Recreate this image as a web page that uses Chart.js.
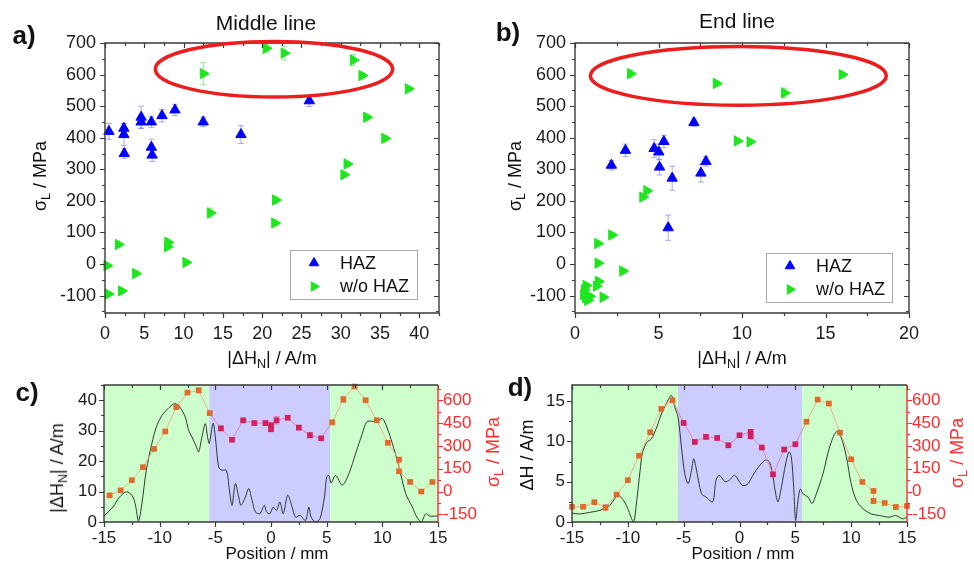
<!DOCTYPE html>
<html>
<head>
<meta charset="utf-8">
<script src="https://cdn.jsdelivr.net/npm/chart.js@4.4.1/dist/chart.umd.min.js"></script>
<style>
  body { margin: 0; background: #fff; }
  #fig { position: relative; width: 974px; height: 561px; overflow: hidden; font-family: Arial, "Liberation Sans", sans-serif; color: #111; }
  #fig canvas { position: absolute; left: 0; top: 0; }
  .t { position: absolute; white-space: nowrap; line-height: 1; transform: translate(-50%, -50%); }
  .r { transform: translate(-50%, -50%) rotate(-90deg); }
  .lab { font-weight: bold; font-size: 26px; }
  .red { color: #ff2a2a; }
  sub { font-size: 0.7em; vertical-align: -0.3em; line-height: 0; }
</style>
</head>
<body>
<div id="fig">
  <canvas id="chart-a" width="974" height="561"></canvas>
  <canvas id="chart-b" width="974" height="561"></canvas>
  <canvas id="chart-c" width="974" height="561"></canvas>
  <canvas id="chart-d" width="974" height="561"></canvas>

  <div class="t" style="left:266px;top:22px;font-size:21px;">Middle line</div>
  <div class="t" style="left:737px;top:20px;font-size:21px;">End line</div>
  <div class="t lab" style="left:24px;top:35px;">a)</div>
  <div class="t lab" style="left:508px;top:32px;">b)</div>
  <div class="t lab" style="left:27px;top:392px;">c)</div>
  <div class="t lab" style="left:520px;top:387px;">d)</div>

  <div class="t r" style="left:40px;top:176px;font-size:18px;">σ<sub>L</sub> / MPa</div>
  <div class="t" style="left:272px;top:358px;font-size:18px;">|ΔH<sub>N</sub>| / A/m</div>
  <div class="t r" style="left:515px;top:176px;font-size:18px;">σ<sub>L</sub> / MPa</div>
  <div class="t" style="left:742px;top:358px;font-size:18px;">|ΔH<sub>N</sub>| / A/m</div>

  <div class="t r" style="left:57px;top:468px;font-size:18px;">|ΔH<sub>N</sub>| / A/m</div>
  <div class="t r red" style="left:493px;top:452px;font-size:18px;">σ<sub>L</sub> / MPa</div>
  <div class="t" style="left:277px;top:553px;font-size:17px;">Position / mm</div>
  <div class="t r" style="left:527px;top:455px;font-size:18px;">ΔH / A/m</div>
  <div class="t r red" style="left:957px;top:453px;font-size:18px;">σ<sub>L</sub> / MPa</div>
  <div class="t" style="left:743px;top:553px;font-size:17px;">Position / mm</div>
</div>

<script>
// --- a) middle line: sigma_L vs |dH_N|
const hazAX = [0.5, 2.4, 2.4, 2.45, 4.6, 4.6, 5.9, 5.9, 6.0, 7.25, 8.9, 12.5, 17.3, 26.0];
const hazAY = [420, 430, 410, 350, 465, 450, 450, 370, 345, 470, 488, 450, 410, 517];
const hazAErr = [25, 15, 35, 15, 35, 20, 18, 25, 20, 20, 18, 15, 28, 18];
const woAX = [0.25, 0.4, 1.7, 2.1, 3.9, 8.0, 7.95, 10.3, 12.5, 13.4, 20.5, 21.7, 21.6, 22.8, 30.4, 30.8, 31.6, 32.7, 33.3, 35.6, 38.6];
const woAY = [-5, -95, 62, -85, -30, 69, 55, 5, 603, 162, 683, 203, 130, 668, 283, 317, 646, 597, 465, 398, 555];
const woAErr = [8, 8, 8, 8, 8, 10, 10, 8, 35, 15, 12, 10, 10, 22, 8, 8, 18, 10, 10, 8, 8];

// --- b) end line
const hazBX = [2.18, 3.02, 4.74, 5.02, 5.06, 5.32, 5.82, 5.58, 7.12, 7.54, 7.84];
const hazBY = [313, 360, 366, 355, 307, 388, 272, 115, 448, 288, 325];
const hazBErr = [15, 20, 28, 25, 25, 20, 38, 40, 12, 28, 15];
const woBX = [3.32, 8.46, 12.54, 16.0, 9.72, 10.48, 4.3, 4.06, 2.2, 1.36, 1.38, 2.86, 1.4, 1.28, 1.68, 0.66, 0.56, 0.52, 0.64, 0.88, 0.76];
const woBY = [603, 572, 542, 600, 390, 387, 232, 212, 92, 65, 3, -22, -55, -70, -105, -68, -81, -97, -107, -102, -115];
const woBErr = [12, 8, 15, 8, 8, 8, 8, 8, 8, 8, 8, 8, 8, 8, 8, 8, 8, 8, 8, 8, 8];

// --- c) middle line profile
const cPos = [-15, -14.2, -13.6, -13, -12.5, -12.2, -11.9, -11.6, -11.2, -10.7,
  -10.3, -9.8, -9.4, -8.9, -8.6, -8.2, -7.7, -7.4, -7.1, -6.7,
  -6.5, -6.2, -5.9, -5.7, -5.55, -5.2, -5.0, -4.7, -4.4, -4.0,
  -3.7, -3.5, -3.2, -2.9, -2.7, -2.3, -2.0, -1.7, -1.4, -1.0,
  -0.6, -0.4, -0.1, 0.2, 0.5, 0.8, 1.1, 1.5, 1.9, 2.2,
  2.6, 3.1, 3.4, 3.6, 4.0, 4.4, 4.8, 5.0, 5.2, 5.4, 5.8,
  6.4, 7.0, 7.6, 8.2, 8.6, 9.1, 9.5, 10.0, 10.4, 10.9,
  11.5, 12.1, 12.7, 13.1, 13.5, 13.9, 14.3, 15];
const cDH = [2.0, 4.9, 8.2, 9.9, 8.8, 6.0, 0.3, 6.0, 17, 25.8,
  31.2, 35, 36.7, 38.4, 38.9, 37.8, 34.5, 30.1, 27.9, 24.7,
  23, 28, 32.3, 28, 25.8, 32.4, 27.9, 18, 17, 17,
  9.3, 5.5, 12.6, 8.2, 5.5, 8.2, 11, 7.1, 3.3, 2.7,
  5.5, 3.3, 2.7, 4.9, 3.8, 6.6, 2.7, 8.8, 4.9, 1.6,
  2.2, 0.5, 4.9, 1.6, 0, 1.1, 8.2, 14.8, 15.3, 12.8, 15.3,
  12.1, 15.9, 22.5, 29, 32.9, 33.1, 32.9, 34, 31.2, 25.8,
  18, 9.3, 4.9, 1.6, 0, 2.7, 1.9, 2.0];
const cStressX = [-14.5, -13.5, -12.5, -11.5, -10.5, -9.5, -8.5, -7.5, -6.5, -5.5, -4.5, -3.5, -2.5, -1.5, -0.5, 0, 0, 0.5, 1.5, 2.5, 3.5, 4.5, 5.5, 6.5, 7.5, 8.5, 9.5, 10.5, 11.5, 11.5, 12.5, 13.5, 14.5];
const cStressY = [-25, 8, 75, 160, 280, 395, 555, 650, 665, 515, 415, 340, 468, 450, 450, 436, 409, 468, 485, 420, 370, 350, 455, 605, 690, 600, 468, 320, 210, 133, 63, 0, 63];
const cStressErr = [8, 8, 8, 8, 10, 10, 10, 10, 15, 10, 15, 12, 12, 10, 15, 15, 15, 25, 15, 15, 18, 10, 10, 20, 10, 10, 10, 10, 10, 10, 8, 8, 8];
const cZones = [-15, -5.55, 5.3, 15];

// --- d) end line profile
const dPos = [-15, -14.3, -13.4, -12.5, -11.6, -10.9, -10.4, -10.0, -9.5, -9.2,
  -8.9, -8.7, -8.3, -7.9, -7.4, -7.0, -6.55, -6.1, -5.8, -5.5,
  -5.2, -4.9, -4.6, -4.3, -4.1, -3.9, -3.4, -3.0, -2.4, -2.1,
  -1.8, -1.3, -0.9, -0.45, 0, 0.3, 0.76, 1.2, 1.8, 2.35,
  2.7, 3.0, 3.24, 3.45, 3.75, 4.13, 4.43, 4.64, 4.85, 5.03,
  5.24, 5.45, 5.69, 6.13, 6.5, 6.88, 7.48, 8.07, 8.67, 9.1,
  9.57, 10.0, 10.46, 11.06, 11.8, 12.55, 13.4, 14.0, 14.6, 15];
const dDH = [1.1, 1.0, 1.2, 1.45, 2.1, 3.3, 2.7, 1.65, 0, 2.7,
  6.4, 8.5, 9.9, 10.3, 11.8, 13.4, 14.7, 15.7, 14.3, 13,
  9.3, 6, 4.75, 6.4, 7.85, 6.8, 3.5, 3.1, 2.5, 5.2,
  5.8, 5.0, 5.2, 5.8, 5.0, 4.5, 4.75, 5.8, 7.0, 7.7,
  7.4, 5.6, 3.5, 2.5, 4.3, 7.2, 8.7, 8.1, 4.3, 0.2,
  2.7, 4.1, 3.5, 3.1, 2.3, 3.5, 6.0, 9.3, 11.2, 10.5,
  8.1, 4.75, 2.7, 1.65, 1.0, 0.8, 0.6, 0.8, 0.4, 0.6];
const dStressX = [-15, -14, -13, -12, -11, -10, -9, -8, -7, -6, -5, -4, -3, -2, -1, 0, 1, 1, 2, 3, 4, 5, 6, 7, 8, 9, 10, 11, 12, 12, 13, 14, 15];
const dStressY = [-100, -100, -70, -105, -20, 75, 235, 390, 543, 600, 451, 326, 359, 352, 304, 370, 392, 363, 289, 113, 276, 311, 458, 604, 578, 387, 212, 63, 4, -62, -75, -102, -95];
const dStressErr = [8, 8, 8, 20, 8, 8, 8, 8, 8, 8, 8, 12, 15, 15, 15, 10, 15, 15, 12, 8, 10, 8, 10, 8, 8, 8, 8, 8, 8, 15, 8, 15, 8];
const dZones = [-15, -5.5, 5.6, 15];

// tick labels
const sigmaTicks = [-100, 0, 100, 200, 300, 400, 500, 600, 700];
const dhTicksA = [0, 5, 10, 15, 20, 25, 30, 35, 40];
const dhTicksB = [0, 5, 10, 15, 20];
const posTicks = [-15, -10, -5, 0, 5, 10, 15];
const dhTicksC = [0, 10, 20, 30, 40];
const dhTicksD = [0, 5, 10, 15];
const stressTicks = [-150, 0, 150, 300, 450, 600];

const FONT = 'Arial, "Liberation Sans", sans-serif';
const BLUE = '#0000ff', GREEN = '#1ee61e', RED = '#ff2a2a';
const ORANGE = '#e06a2a', MAGENTA = '#d41f5f';
const ZONE_COLORS = ['#ccffcc', '#ccccff', '#ccffcc'];

Chart.defaults.font.family = FONT;
Chart.defaults.font.size = 18;
Chart.defaults.color = '#1a1a1a';

const xy = (xs, ys) => xs.map((x, i) => ({ x, y: ys[i] }));
const fixW = w => s => { s.width = w; };
const fixH = h => s => { s.height = h; };
const useTicks = list => s => { s.ticks = list.map(value => ({ value })); };
// chart area edges in page pixels -> layout padding
function areaPad(l, t, r, b, yw, xh, rw) {
  return { left: l - yw, top: t, right: 974 - r - rw, bottom: 561 - b - xh };
}
function axis(min, max, list, size, padding, extra) {
  return Object.assign({
    type: 'linear', min, max,
    grid: { display: false, drawTicks: false }, border: { display: false },
    ticks: { padding, autoSkip: false, maxRotation: 0, font: { size } },
    afterBuildTicks: useTicks(list),
  }, extra);
}

function drawTicks(ctx, s, a, edge, out) {
  const vals = s.ticks.map(t => t.value);
  const step = vals[1] - vals[0];
  const marks = vals.map(v => [v, 5]);
  for (let v = vals[0] - step / 2; v <= s.max + 1e-9; v += step) {
    if (v >= s.min - 1e-9) marks.push([v, 3]);
  }
  const d = out ? -1 : 1;
  ctx.beginPath();
  marks.forEach(([v, len]) => {
    const p = Math.round(s.getPixelForValue(v)) + 0.5;
    if (edge === 'bottom') { ctx.moveTo(p, a.bottom); ctx.lineTo(p, a.bottom - d * len); }
    if (edge === 'top') { ctx.moveTo(p, a.top); ctx.lineTo(p, a.top + d * len); }
    if (edge === 'left') { ctx.moveTo(a.left, p); ctx.lineTo(a.left + d * len, p); }
    if (edge === 'right') { ctx.moveTo(a.right, p); ctx.lineTo(a.right - d * len, p); }
  });
  ctx.stroke();
}

const framePlugin = {
  id: 'frame',
  afterDatasetsDraw(chart, args, o) {
    const { ctx, chartArea: a, scales } = chart;
    ctx.save();
    ctx.lineWidth = 1.4;
    ctx.strokeStyle = '#3a3a3a';
    ctx.beginPath();
    ctx.moveTo(a.right, a.top); ctx.lineTo(a.left, a.top);
    ctx.lineTo(a.left, a.bottom); ctx.lineTo(a.right, a.bottom);
    if (!o.right) ctx.lineTo(a.right, a.top);
    ctx.stroke();
    ctx.lineWidth = 1.2;
    drawTicks(ctx, scales.x, a, 'bottom', true);
    drawTicks(ctx, scales.x, a, 'top', false);
    drawTicks(ctx, scales.y, a, 'left', true);
    if (o.right) {
      ctx.strokeStyle = RED;
      ctx.lineWidth = 1.4;
      ctx.beginPath(); ctx.moveTo(a.right, a.top); ctx.lineTo(a.right, a.bottom); ctx.stroke();
      ctx.lineWidth = 1.2;
      drawTicks(ctx, scales[o.right], a, 'right', true);
    } else {
      drawTicks(ctx, scales.y, a, 'right', false);
    }
    ctx.restore();
  }
};

const errorBarPlugin = {
  id: 'errorBars',
  beforeDatasetsDraw(chart) {
    const { ctx } = chart;
    ctx.save();
    ctx.lineWidth = 1;
    chart.data.datasets.forEach((ds, i) => {
      if (!ds.errors) return;
      const meta = chart.getDatasetMeta(i);
      const ys = chart.scales[meta.yAxisID];
      ctx.strokeStyle = ds.errorColor;
      ctx.beginPath();
      meta.data.forEach((pt, j) => {
        const e = ds.errors[j];
        if (!e) return;
        const v = ds.data[j].y;
        const y1 = ys.getPixelForValue(v + e), y2 = ys.getPixelForValue(v - e);
        ctx.moveTo(pt.x, y1); ctx.lineTo(pt.x, y2);
        ctx.moveTo(pt.x - 3, y1); ctx.lineTo(pt.x + 3, y1);
        ctx.moveTo(pt.x - 3, y2); ctx.lineTo(pt.x + 3, y2);
      });
      ctx.stroke();
    });
    ctx.restore();
  }
};

const zonePlugin = {
  id: 'zones',
  beforeDatasetsDraw(chart, args, o) {
    if (!o.edges) return;
    const { ctx, chartArea: a, scales: { x } } = chart;
    ctx.save();
    for (let i = 0; i < o.edges.length - 1; i++) {
      const x1 = x.getPixelForValue(o.edges[i]), x2 = x.getPixelForValue(o.edges[i + 1]);
      ctx.fillStyle = ZONE_COLORS[i];
      ctx.fillRect(x1, a.top, x2 - x1, a.bottom - a.top);
    }
    ctx.restore();
  }
};

const ellipsePlugin = {
  id: 'ellipse',
  afterDraw(chart, args, o) {
    if (o.cx === undefined) return;
    const { ctx, scales: { x, y } } = chart;
    const cx = x.getPixelForValue(o.cx), cy = y.getPixelForValue(o.cy);
    const rx = Math.abs(x.getPixelForValue(o.cx + o.rx) - cx);
    const ry = Math.abs(y.getPixelForValue(o.cy + o.ry) - cy);
    ctx.save();
    ctx.strokeStyle = '#ee1c1c';
    ctx.lineWidth = 3.5;
    ctx.beginPath();
    ctx.ellipse(cx, cy, rx, ry, 0, 0, Math.PI * 2);
    ctx.stroke();
    ctx.restore();
  }
};

const boxLegendPlugin = {
  id: 'boxLegend',
  afterDraw(chart, args, o) {
    if (o.width === undefined) return;
    const { ctx, chartArea: a } = chart;
    const x0 = Math.round(a.left + o.left), y0 = Math.round(a.top + o.top);
    ctx.save();
    ctx.fillStyle = '#fff';
    ctx.fillRect(x0, y0, o.width, o.height);
    ctx.strokeStyle = '#a8a8a8';
    ctx.lineWidth = 1;
    ctx.strokeRect(x0 + 0.5, y0 + 0.5, o.width, o.height);
    ctx.font = `18px ${FONT}`;
    ctx.textBaseline = 'middle';
    chart.data.datasets.forEach((ds, i) => {
      const y = y0 + 13 + i * 23.5;
      ctx.fillStyle = ds.backgroundColor;
      ctx.strokeStyle = ds.borderColor;
      Chart.helpers.drawPoint(ctx, { pointStyle: ds.pointStyle, rotation: ds.rotation || 0, radius: 5.5, borderWidth: 1 }, x0 + 24, y);
      ctx.fillStyle = '#111';
      ctx.fillText(ds.label, x0 + 50, y + 1);
    });
    ctx.restore();
  }
};

function scatterPanel(id, geo, xMax, xTicks, haz, wo, ellipse, legendBox) {
  return new Chart(document.getElementById(id), {
    type: 'scatter',
    data: {
      datasets: [
        { label: 'HAZ', data: haz.data, errors: haz.err, errorColor: 'rgba(110,110,255,0.6)',
          pointStyle: 'triangle', pointRadius: 6, backgroundColor: BLUE, borderColor: BLUE, borderWidth: 1, clip: false },
        { label: 'w/o HAZ', data: wo.data, errors: wo.err, errorColor: 'rgba(70,220,70,0.6)',
          pointStyle: 'triangle', rotation: 90, pointRadius: 6, backgroundColor: GREEN, borderColor: GREEN, borderWidth: 1, clip: false },
      ]
    },
    options: {
      responsive: false, animation: false, events: [],
      layout: { padding: areaPad(geo.l, geo.t, geo.r, geo.b, geo.yw, 30, 0) },
      plugins: {
        legend: { display: false }, tooltip: { enabled: false },
        frame: {}, ellipse, boxLegend: legendBox,
      },
      scales: {
        x: axis(0, xMax, xTicks, 18, 10, { afterFit: fixH(30) }),
        y: axis(-155, 700, sigmaTicks, 18, 9, { afterFit: fixW(geo.yw) }),
      }
    },
    plugins: [errorBarPlugin, framePlugin, ellipsePlugin, boxLegendPlugin]
  });
}

const inHaz = x => Math.abs(x) <= 5.05;

function profilePanel(id, geo, dhMax, dhTicks, pos, dh, sx, sy, serr, zones) {
  return new Chart(document.getElementById(id), {
    type: 'line',
    data: {
      datasets: [
        { data: xy(pos, dh), yAxisID: 'y', borderColor: '#2f3a2f', borderWidth: 1, pointRadius: 0, tension: 0.3, order: 2, clip: false },
        { data: xy(sx, sy), yAxisID: 'y2', errors: serr, errorColor: 'rgba(215,100,130,0.6)', order: 1, clip: false,
          borderWidth: 1, pointStyle: 'rect', pointRadius: 4, pointBorderWidth: 0,
          pointBackgroundColor: c => inHaz(c.raw.x) ? MAGENTA : ORANGE,
          pointBorderColor: c => inHaz(c.raw.x) ? MAGENTA : ORANGE,
          segment: { borderColor: c => (inHaz(c.p0.parsed.x) || inHaz(c.p1.parsed.x)) ? 'rgba(232,120,160,0.85)' : 'rgba(244,165,125,0.9)' } },
      ]
    },
    options: {
      responsive: false, animation: false, events: [],
      layout: { padding: areaPad(geo.l, geo.t, geo.r, geo.b, geo.yw, 25, geo.rw) },
      plugins: {
        legend: { display: false }, tooltip: { enabled: false },
        frame: { right: 'y2' }, zones: { edges: zones },
      },
      scales: {
        x: axis(-15, 15, posTicks, 17, 6, { afterFit: fixH(25) }),
        y: axis(0, dhMax, dhTicks, 17, 7, { position: 'left', afterFit: fixW(geo.yw) }),
        y2: axis(-200, 700, stressTicks, 17, 5, { position: 'right', afterFit: fixW(geo.rw) }),
      }
    },
    plugins: [zonePlugin, errorBarPlugin, framePlugin]
  });
}

scatterPanel('chart-a', { l: 105, t: 43, r: 439, b: 313, yw: 105 }, 42.5, dhTicksA,
  { data: xy(hazAX, hazAY), err: hazAErr }, { data: xy(woAX, woAY), err: woAErr },
  { cx: 21.5, cy: 617, rx: 15.1, ry: 88 },
  { left: 185, top: 207, width: 127, height: 49 });

scatterPanel('chart-b', { l: 575, t: 43, r: 909, b: 313, yw: 80 }, 20, dhTicksB,
  { data: xy(hazBX, hazBY), err: hazBErr }, { data: xy(woBX, woBY), err: woBErr },
  { cx: 9.78, cy: 596, rx: 8.86, ry: 93 },
  { left: 191, top: 210, width: 126, height: 49 });

const chartC = profilePanel('chart-c', { l: 104, t: 385, r: 438, b: 522, yw: 50, rw: 55 }, 45, dhTicksC,
  cPos, cDH, cStressX, cStressY, cStressErr, cZones);
chartC.options.scales.y2.ticks.color = RED;
chartC.update();

const chartD = profilePanel('chart-d', { l: 572, t: 385, r: 907, b: 522, yw: 50, rw: 55 }, 17, dhTicksD,
  dPos, dDH, dStressX, dStressY, dStressErr, dZones);
chartD.options.scales.y2.ticks.color = RED;
chartD.update();
</script>
</body>
</html>
